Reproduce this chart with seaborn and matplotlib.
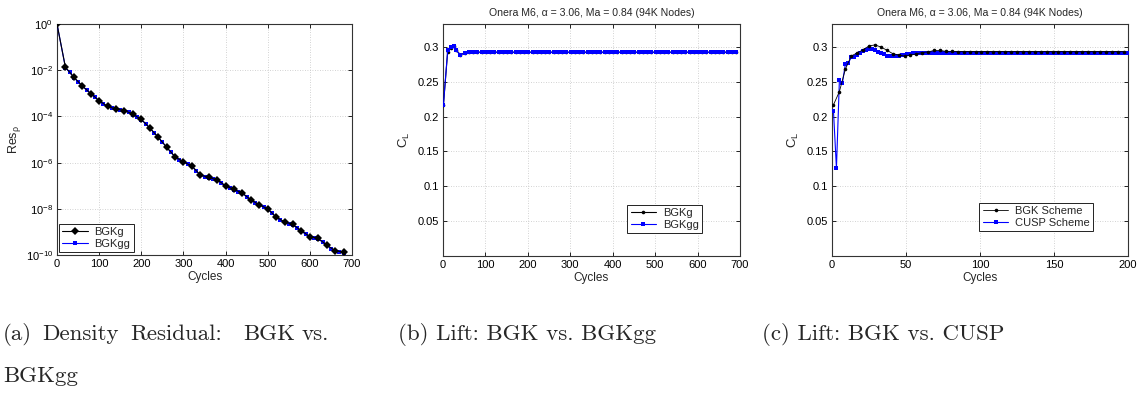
import matplotlib
matplotlib.use("Agg")
import matplotlib.pyplot as plt
import seaborn as sns
from matplotlib.ticker import FixedLocator, NullLocator, FixedFormatter

# ---------------- data ----------------
# (a) density residual
cyc_a_g = [0, 20, 40, 60, 80, 100, 120, 140, 160, 180, 200, 220, 240, 260, 280, 300,
           320, 340, 360, 380, 400, 420, 440, 460, 480, 500, 520, 540, 560, 580, 600,
           620, 640, 660, 680]
res_bgkg = [1.0, 1.35e-2, 5.0e-3, 2.1e-3, 9.8e-4, 4.8e-4, 2.7e-4, 2.1e-4, 1.8e-4, 1.25e-4,
            7.4e-5, 3.2e-5, 1.26e-5, 4.7e-6, 1.8e-6, 1.07e-6, 7.2e-7, 2.9e-7, 2.3e-7, 1.8e-7,
            1.0e-7, 6.9e-8, 4.8e-8, 2.45e-8, 1.48e-8, 1.0e-8, 4.4e-9, 2.7e-9, 2.1e-9, 1.1e-9,
            6.3e-10, 5.2e-10, 2.7e-10, 1.55e-10, 1.3e-10]
cyc_a_gg = [0, 20, 30, 40, 50, 60, 70, 80, 90, 100, 110, 120, 130, 140, 150, 160, 170, 180,
            190, 200, 210, 220, 230, 240, 250, 260, 270, 280, 290, 300, 310, 320, 330, 340,
            350, 360, 370, 380, 390, 400, 410, 420, 430, 440, 450, 460, 470, 480, 490, 500,
            510, 520, 530, 540, 550, 560, 570, 580, 590, 600, 610, 620, 630, 640, 650, 660,
            670, 680]
res_bgkgg = [1.0, 1.3e-2, 8.0e-3, 4.8e-3, 3.1e-3, 2.0e-3, 1.4e-3, 9.5e-4, 6.6e-4, 4.7e-4,
             3.5e-4, 2.7e-4, 2.35e-4, 2.1e-4, 1.9e-4, 1.75e-4, 1.5e-4, 1.2e-4, 9.6e-5, 7.2e-5,
             4.9e-5, 3.1e-5, 2.0e-5, 1.25e-5, 7.7e-6, 4.6e-6, 2.8e-6, 1.75e-6, 1.3e-6, 1.05e-6,
             8.6e-7, 7.0e-7, 4.4e-7, 2.8e-7, 2.4e-7, 2.2e-7, 2.0e-7, 1.75e-7, 1.3e-7, 9.8e-8,
             8.0e-8, 6.7e-8, 5.6e-8, 4.6e-8, 3.3e-8, 2.4e-8, 1.85e-8, 1.45e-8, 1.2e-8, 9.8e-9,
             6.5e-9, 4.3e-9, 3.2e-9, 2.6e-9, 2.3e-9, 2.05e-9, 1.5e-9, 1.05e-9, 8.0e-10, 6.2e-10,
             5.6e-10, 5.0e-10, 3.6e-10, 2.6e-10, 1.9e-10, 1.5e-10, 1.35e-10, 1.25e-10]
res_ticks = [1e-10, 1e-8, 1e-6, 1e-4, 1e-2, 1e0]

# (b) lift BGKg vs BGKgg
cyc_b = [1, 11, 18, 25, 31, 41, 51, 61, 71, 81, 91, 101, 111, 121, 131, 141, 151, 161, 171,
         181, 191, 201, 211, 221, 231, 241, 251, 261, 271, 281, 291, 301, 311, 321, 331, 341,
         351, 361, 371, 381, 391, 401, 411, 421, 431, 441, 451, 461, 471, 481, 491, 501, 511,
         521, 531, 541, 551, 561, 571, 581, 591, 601, 611, 621, 631, 641, 651, 661, 671, 681,
         691]
cl_b_bgkg = [0.217, 0.293, 0.299, 0.302, 0.2955, 0.289, 0.2915, 0.2925, 0.2925, 0.2925,
             0.2925, 0.2925, 0.2925, 0.2925, 0.2925, 0.2925, 0.2925, 0.2925, 0.2925, 0.2925,
             0.2925, 0.2925, 0.2925, 0.2925, 0.2925, 0.2925, 0.2925, 0.2925, 0.2925, 0.2925,
             0.2925, 0.2925, 0.2925, 0.2925, 0.2925, 0.2925, 0.2925, 0.2925, 0.2925, 0.2925,
             0.2925, 0.2925, 0.2925, 0.2925, 0.2925, 0.2925, 0.2925, 0.2925, 0.2925, 0.2925,
             0.2925, 0.2925, 0.2925, 0.2925, 0.2925, 0.2925, 0.2925, 0.2925, 0.2925, 0.2925,
             0.2925, 0.2925, 0.2925, 0.2925, 0.2925, 0.2925, 0.2925, 0.2925, 0.2925, 0.2925,
             0.2925]
cl_b_bgkgg = [0.217, 0.295, 0.300, 0.3015, 0.295, 0.2885, 0.291, 0.293, 0.2925, 0.2925,
              0.2925, 0.2925, 0.2925, 0.2925, 0.2925, 0.2925, 0.2925, 0.2925, 0.2925, 0.2925,
              0.2925, 0.2925, 0.2925, 0.2925, 0.2925, 0.2925, 0.2925, 0.2925, 0.2925, 0.2925,
              0.2925, 0.2925, 0.2925, 0.2925, 0.2925, 0.2925, 0.2925, 0.2925, 0.2925, 0.2925,
              0.2925, 0.2925, 0.2925, 0.2925, 0.2925, 0.2925, 0.2925, 0.2925, 0.2925, 0.2925,
              0.2925, 0.2925, 0.2925, 0.2925, 0.2925, 0.2925, 0.2925, 0.2925, 0.2925, 0.2925,
              0.2925, 0.2925, 0.2925, 0.2925, 0.2925, 0.2925, 0.2925, 0.2925, 0.2925, 0.2925,
              0.2925]

# (c) lift BGK vs CUSP
cyc_c_bgk = [1, 5, 9, 13, 17, 21, 25, 29, 33, 37, 41, 45, 49, 53, 57, 61, 65, 69, 73, 77,
             81, 85, 89, 93, 97, 101, 105, 109, 113, 117, 121, 125, 129, 133, 137, 141, 145,
             149, 153, 157, 161, 165, 169, 173, 177, 181, 185, 189, 193, 197]
cl_c_bgk = [0.217, 0.236, 0.268, 0.287, 0.2915, 0.296, 0.3015, 0.303, 0.300, 0.2955,
            0.2905, 0.2885, 0.287, 0.2885, 0.290, 0.292, 0.293, 0.295, 0.295, 0.2937,
            0.2937, 0.2935, 0.2935, 0.2935, 0.2935, 0.2935, 0.2935, 0.2935, 0.2935, 0.2935,
            0.2935, 0.2935, 0.2935, 0.2935, 0.2935, 0.2935, 0.2935, 0.2935, 0.2935, 0.2935,
            0.2935, 0.2935, 0.2935, 0.2935, 0.2935, 0.2935, 0.2935, 0.2935, 0.2935, 0.2935]
cyc_c_cusp = [1, 3, 5, 7, 9, 11, 13, 15, 17, 19, 21, 23, 25, 27, 29, 31, 33, 35, 37, 39,
              41, 43, 45, 47, 49, 51, 53, 55, 57, 59, 61, 63, 65, 67, 69, 71, 73, 75, 77, 79,
              81, 83, 85, 87, 89, 91, 93, 95, 97, 99, 101, 103, 105, 107, 109, 111, 113, 115,
              117, 119, 121, 123, 125, 127, 129, 131, 133, 135, 137, 139, 141, 143, 145, 147,
              149, 151, 153, 155, 157, 159, 161, 163, 165, 167, 169, 171, 173, 175, 177, 179,
              181, 183, 185, 187, 189, 191, 193, 195, 197, 199]
cl_c_cusp = [0.2077, 0.126, 0.2527, 0.248, 0.275, 0.277, 0.285, 0.286, 0.289, 0.292,
             0.294, 0.296, 0.2975, 0.2965, 0.2953, 0.293, 0.291, 0.2895, 0.2875, 0.2865,
             0.2865, 0.2868, 0.2875, 0.2885, 0.289, 0.2898, 0.2905, 0.2912, 0.2915, 0.2918,
             0.292, 0.292, 0.292, 0.292, 0.292, 0.292, 0.292, 0.292, 0.292, 0.292,
             0.292, 0.292, 0.292, 0.292, 0.292, 0.292, 0.292, 0.292, 0.292, 0.292,
             0.292, 0.292, 0.292, 0.292, 0.292, 0.292, 0.292, 0.292, 0.292, 0.292,
             0.292, 0.292, 0.292, 0.292, 0.292, 0.292, 0.292, 0.292, 0.292, 0.292,
             0.292, 0.292, 0.292, 0.292, 0.292, 0.292, 0.292, 0.292, 0.292, 0.292,
             0.292, 0.292, 0.292, 0.292, 0.292, 0.292, 0.292, 0.292, 0.292, 0.292,
             0.292, 0.292, 0.292, 0.292, 0.292, 0.292, 0.292, 0.292, 0.292, 0.292]

cl_ticks = [0.05, 0.1, 0.15, 0.2, 0.25, 0.3]
cl_tick_labels = ["0.05", "0.1", "0.15", "0.2", "0.25", "0.3"]
ticks_700 = [0, 100, 200, 300, 400, 500, 600, 700]
ticks_200 = [0, 50, 100, 150, 200]

title_bc = "Onera M6, α = 3.06, Ma = 0.84 (94K Nodes)"
caption_a_words = ["(a)", "Density", "Residual:", "BGK", "vs."]
caption_a_line2 = "BGKgg"
caption_b = "(b) Lift: BGK vs. BGKgg"
caption_c = "(c) Lift: BGK vs. CUSP"

# ---------------- style ----------------
sns.set_style("ticks")
plt.rcParams["font.family"] = ["Liberation Sans", "DejaVu Sans"]
plt.rcParams["mathtext.fontset"] = "custom"
plt.rcParams["mathtext.rm"] = "Liberation Sans"
plt.rcParams["mathtext.it"] = "Liberation Sans:italic"
plt.rcParams["font.size"] = 8

W, H = 1139, 393
fig = plt.figure(figsize=(W / 100, H / 100), dpi=100)


def px_axes(l, t, r, b):
    return fig.add_axes([l / W, 1 - b / H, (r - l) / W, (b - t) / H])


axa = px_axes(57, 24, 352, 255)
axb = px_axes(443, 24, 740, 256)
axc = px_axes(832, 24, 1128, 256)


def style(ax):
    ax.grid(True, linestyle=(0, (1, 2)), color="#c4c4c4", linewidth=0.6)
    ax.tick_params(direction="in", top=True, right=True, length=3, width=0.6,
                   labelsize=8, pad=3, colors="k")
    for s in ax.spines.values():
        s.set_color("#333333")
        s.set_linewidth(0.8)
    ax.set_xlabel("Cycles", fontsize=8.5, labelpad=1)


def leg(ax, loc, anchor, handles=None, labels=None):
    kw = dict(loc=loc, bbox_to_anchor=anchor, borderaxespad=0, fontsize=8,
              frameon=True, fancybox=False, edgecolor="#222222", framealpha=1,
              handlelength=2.3, handletextpad=0.6, labelspacing=0.15, borderpad=0.3)
    if handles is not None:
        lg = ax.legend(handles, labels, **kw)
    else:
        lg = ax.legend(**kw)
    lg.get_frame().set_linewidth(0.7)


# (a)
sns.lineplot(x=cyc_a_g, y=res_bgkg, ax=axa, color="k", marker="D", markersize=4.2,
             markeredgewidth=0, linewidth=0.8, label="BGKg", sort=False, zorder=4)
sns.lineplot(x=cyc_a_gg, y=res_bgkgg, ax=axa, color="#0000ff", marker="s", markersize=2.2,
             markeredgewidth=0, linewidth=0.8, label="BGKgg", sort=False, zorder=3)
axa.set_yscale("log")
axa.set_xlim(0, 700)
axa.set_ylim(1e-10, 1)
axa.yaxis.set_major_locator(FixedLocator(res_ticks))
axa.yaxis.set_minor_locator(NullLocator())
axa.set_xticks(ticks_700)
style(axa)
axa.set_ylabel("Res$_{\\mathregular{ρ}}$", fontsize=9, labelpad=2)
leg(axa, "lower left", (0.007, 0.012))

# (b)
sns.lineplot(x=cyc_b, y=cl_b_bgkg, ax=axb, color="k", marker="o", markersize=2.6,
             markeredgewidth=0, linewidth=0.8, label="BGKg", sort=False, zorder=3)
sns.lineplot(x=cyc_b, y=cl_b_bgkgg, ax=axb, color="#0000ff", marker="s", markersize=2.6,
             markeredgewidth=0, linewidth=0.8, label="BGKgg", sort=False, zorder=4)
axb.set_xlim(0, 700)
axb.set_ylim(0.0, 0.333)
axb.set_xticks(ticks_700)
axb.yaxis.set_major_locator(FixedLocator(cl_ticks))
axb.yaxis.set_major_formatter(FixedFormatter(cl_tick_labels))
style(axb)
axb.set_ylabel("C$_{\\mathregular{L}}$", fontsize=9.5, labelpad=4)
axb.set_title(title_bc, fontsize=7.6, pad=6)
leg(axb, "lower right", (0.872, 0.099))

# (c)
sns.lineplot(x=cyc_c_cusp, y=cl_c_cusp, ax=axc, color="#0000ff", marker="s", markersize=2.4,
             markeredgewidth=0, linewidth=0.8, label="CUSP Scheme", sort=False, zorder=3)
sns.lineplot(x=cyc_c_bgk, y=cl_c_bgk, ax=axc, color="k", marker="o", markersize=2.6,
             markeredgewidth=0, linewidth=0.6, label="BGK Scheme", sort=False, zorder=4)
axc.set_xlim(0, 200)
axc.set_ylim(0.0, 0.333)
axc.set_xticks(ticks_200)
axc.yaxis.set_major_locator(FixedLocator(cl_ticks))
axc.yaxis.set_major_formatter(FixedFormatter(cl_tick_labels))
style(axc)
axc.set_ylabel("C$_{\\mathregular{L}}$", fontsize=9.5, labelpad=4)
axc.set_title(title_bc, fontsize=7.6, pad=6)
h, l = axc.get_legend_handles_labels()
leg(axc, "lower right", (0.882, 0.107), h[::-1], l[::-1])

# captions
cap_kw = dict(family=["cmr10", "DejaVu Serif"], fontsize=16.5, va="center", ha="left")
for word, xpx in zip(caption_a_words, [3, 42, 130, 243, 302]):
    fig.text(xpx / W, 1 - 334 / H, word, **cap_kw)
fig.text(3 / W, 1 - 376 / H, caption_a_line2, **cap_kw)
fig.text(398 / W, 1 - 334 / H, caption_b, **cap_kw)
fig.text(762 / W, 1 - 334 / H, caption_c, **cap_kw)

fig.savefig("out.png", dpi=100)
